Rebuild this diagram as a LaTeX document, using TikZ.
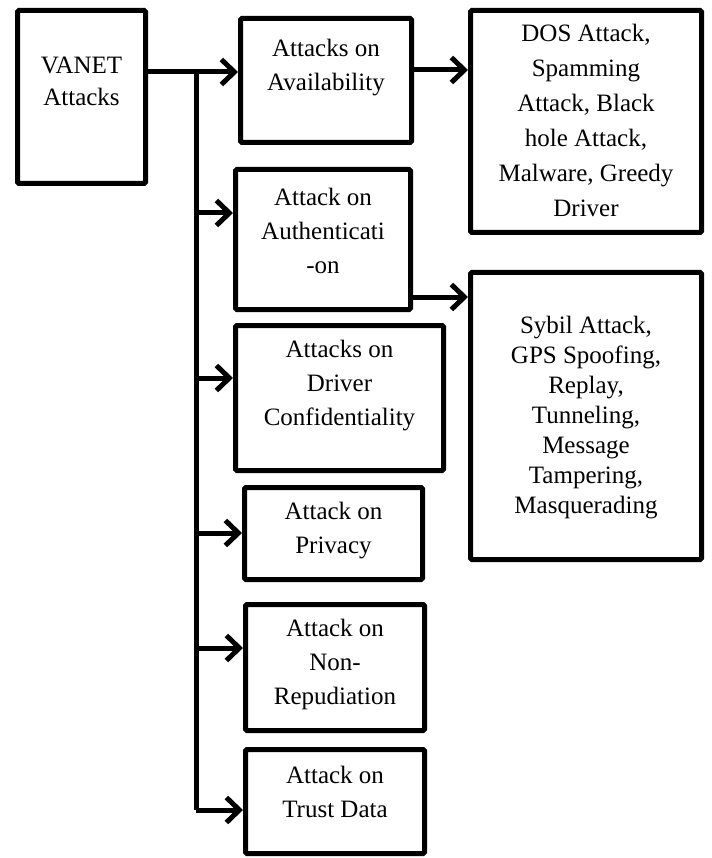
\documentclass[tikz,border=0pt]{standalone}
\usepackage{fontspec}
\setmainfont{Liberation Serif}
\usetikzlibrary{arrows.meta}

\begin{document}
\begin{tikzpicture}[x=1pt,y=-1pt,
    box/.style={draw,line width=5pt,rounded corners=1.5pt,inner sep=0pt},
    txt/.style={align=center,inner sep=0pt,font=\fontsize{25}{34}\selectfont},
    arr/.style={line width=5pt,-{Straight Barb[length=13pt,width=25pt]}}]
     \useasboundingbox (0,0) rectangle (711,858);

     % boxes
     \path (81.5,97) node[box,minimum width=128pt,minimum height=173pt] (vanet) {};
     \path (326,80.5) node[box,minimum width=171pt,minimum height=124pt] (avail) {};
     \path (323,239.5) node[box,minimum width=175pt,minimum height=140pt] (auth) {};
     \path (339.5,398) node[box,minimum width=208pt,minimum height=145pt] (drv) {};
     \path (333.5,533.5) node[box,minimum width=178pt,minimum height=92pt] (priv) {};
     \path (335,667.5) node[box,minimum width=179pt,minimum height=126pt] (nrep) {};
     \path (335,801.5) node[box,minimum width=179pt,minimum height=104pt] (trust) {};
     \path (586,121.5) node[box,minimum width=231pt,minimum height=222pt] (dos) {};
     \path (586,416) node[box,minimum width=231pt,minimum height=287pt] (syb) {};

     % texts
     \path (81.5,81) node[txt,font=\fontsize{25}{32}\selectfont] {VANET\\Attacks};
     \path (326,67.5) node[txt] {Attacks on\\Availability};
     \path (323,231) node[txt] {Attack on\\Authenticati\\-on};
     \path (339.5,386) node[txt] {Attacks on\\Driver\\Confidentiality};
     \path (333.5,530.5) node[txt] {Attack on\\Privacy};
     \path (335,664) node[txt] {Attack on\\Non-\\Repudiation};
     \path (335,791.5) node[txt] {Attack on\\Trust Data};
     \path (586,120.5) node[txt,font=\fontsize{25}{35}\selectfont]
          {DOS Attack,\\Spamming\\Attack, Black\\hole Attack,\\Malware, Greedy\\Driver};
     \path (586,418) node[txt,font=\fontsize{25}{30}\selectfont]
          {Sybil Attack,\\GPS Spoofing,\\Replay,\\Tunneling,\\Message\\Tampering,\\Masquerading};

     % trunk
     \coordinate (t0) at (196,72);
     \coordinate (t1) at (196,213);
     \coordinate (t2) at (196,378);
     \coordinate (t3) at (196,533);
     \coordinate (t4) at (196,648);
     \coordinate (t5) at (196,810);
     \coordinate (a1) at (440,70);
     \coordinate (a2) at (440,297);

     \draw[line width=5pt] (t0) -- (t5);
     \draw[arr] (vanet.east |- t0) -- (avail.west |- t0);
     \draw[arr] (t1) -- (auth.west |- t1);
     \draw[arr] (t2) -- (drv.west |- t2);
     \draw[arr] (t3) -- (priv.west |- t3);
     \draw[arr] (t4) -- (nrep.west |- t4);
     \draw[arr] (t5) -- (trust.west |- t5);
     \draw[arr] (avail.east |- a1) -- (dos.west |- a1);
     \draw[arr] (auth.east |- a2) -- (syb.west |- a2);

\end{tikzpicture}
\end{document}
